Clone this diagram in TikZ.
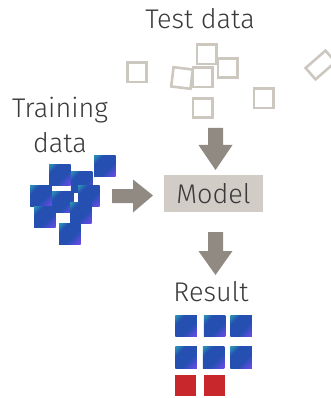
\documentclass[tikz,border=0pt]{standalone}
\usepackage{fontspec}
\setmainfont{Fira Sans Light}
\usetikzlibrary{calc}

\definecolor{ink}{HTML}{3A3A3A}
\definecolor{testgray}{HTML}{CDC8BF}
\definecolor{arrowgray}{HTML}{918A83}
\definecolor{modelfill}{HTML}{D1CCC5}
\definecolor{gteal}{HTML}{2A8FB4}
\definecolor{gblue}{HTML}{2550B2}
\definecolor{gviolet}{HTML}{6C4CEB}
\definecolor{resred}{HTML}{C8282C}

% diagonal fill of the data tiles: teal corner, blue body, violet corner
\pgfdeclarehorizontalshading{sqgrad}{100bp}{color(0bp)=(gteal); color(17bp)=(gteal); color(30bp)=(gblue); color(60bp)=(gblue); color(84bp)=(gviolet); color(100bp)=(gviolet)}

\begin{document}
\begin{tikzpicture}[x=1pt,y=-1pt,
  lbl/.style={font=\fontsize{27}{34}\selectfont, text=ink, inner sep=0pt, anchor=base},
  testsq/.style={draw=testgray, line width=2.6pt, inner sep=0pt, minimum size=19.4pt},
  datasq/.style={shading=sqgrad, shading angle=-45, inner sep=0pt, minimum size=21.5pt},
  redsq/.style={fill=resred, inner sep=0pt, minimum size=21.5pt},
  arrowfill/.style={fill=arrowgray},
  modelbox/.style={fill=modelfill, minimum width=99pt, minimum height=37pt,
    inner sep=0pt, font=\fontsize{27}{34}\selectfont, text=ink}]

\useasboundingbox (0,0) rectangle (331,398);

% labels
\node[lbl] (test) at (200,29) {Test data};
\node[lbl] (train1) at (60,118) {Training};
\node[lbl] (train2) at (60,152) {data};
\node[modelbox] (model) at (213.5,193.5) {Model};
\node[lbl] (result) at (211,301) {Result};

% unlabeled test samples
\node[testsq] (t1) at (137,72.5) {};
\node[testsq, rotate=-7] (t2) at (182,78) {};
\node[testsq] (t3) at (206.5,54.5) {};
\node[testsq] (t4) at (227.5,68) {};
\node[testsq] (t5) at (202.5,77.5) {};
\node[testsq] (t6) at (202.5,108) {};
\node[testsq] (t7) at (263.5,98.5) {};
\node[testsq, rotate=41, minimum width=26.4pt, minimum height=15.1pt] (t8) at (320.5,65) {};

% training samples
\node[datasq] (d1) at (104.75,165.75) {};
\node[datasq] (d2) at (59.75,174.75) {};
\node[datasq] (d3) at (81.5,181.75) {};
\node[datasq] (d4) at (40.75,195.75) {};
\node[datasq] (d5) at (62.75,201.75) {};
\node[datasq] (d6) at (88.75,195.75) {};
\node[datasq] (d7) at (44.75,216.75) {};
\node[datasq] (d8) at (80.75,212.75) {};
\node[datasq] (d9) at (69.75,233.75) {};

% predicted results
\node[datasq] (r1) at (186,326) {};
\node[datasq] (r2) at (214.5,326) {};
\node[datasq] (r3) at (241,326) {};
\node[datasq] (r4) at (186,357.5) {};
\node[datasq] (r5) at (213.5,357.5) {};
\node[datasq] (r6) at (241,357.5) {};
\node[redsq] (r7) at (185.5,385.5) {};
\node[redsq] (r8) at (214.5,385.5) {};

% block arrows
\coordinate (inTest) at (215.5,128);
\coordinate (inTrain) at (112,196);
\coordinate (outModel) at (215.5,232);
\fill[arrowfill, shift={(inTest)}] (-7.5,0) -- (7.5,0) -- (7.5,17) -- (17,17) -- (0,42)
  -- (-17,17) -- (-7.5,17) -- cycle;
\fill[arrowfill, shift={(inTrain)}] (0,-7) -- (21,-7) -- (21,-16.5) -- (41,-0.5)
  -- (21,16.5) -- (21,7) -- (0,7) -- cycle;
\fill[arrowfill, shift={(outModel)}] (-7.5,0) -- (7.5,0) -- (7.5,19) -- (17,19) -- (0,43)
  -- (-17,19) -- (-7.5,19) -- cycle;
\end{tikzpicture}
\end{document}
